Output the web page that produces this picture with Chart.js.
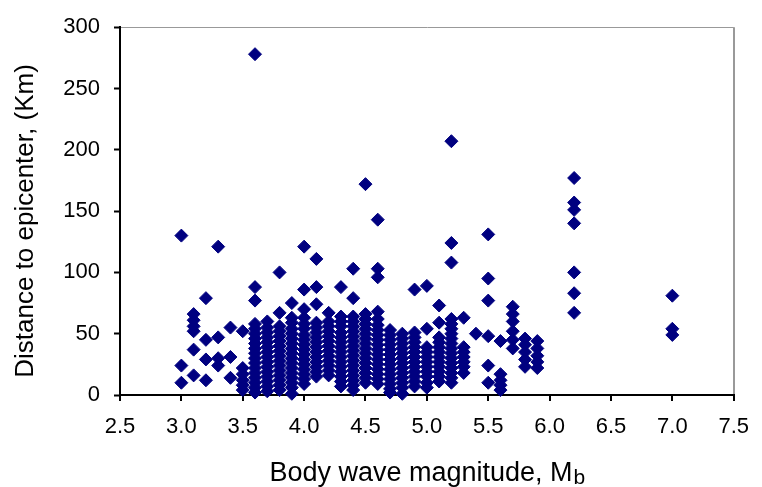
<!DOCTYPE html>
<html>
<head>
<meta charset="utf-8">
<script src="https://cdn.jsdelivr.net/npm/chart.js@4"></script>
<style>
  html, body { margin: 0; padding: 0; background: #fff; }
  #wrap { width: 762px; height: 487px; }
</style>
</head>
<body>
<div id="wrap"><canvas id="quakeChart" width="762" height="487"></canvas></div>
<script>
// magnitude columns (Mb) and the distances (km) recorded at each one
const magnitudes = [3.0, 3.1, 3.2, 3.3, 3.4, 3.5, 3.6, 3.7, 3.8, 3.9, 4.0, 4.1, 4.2, 4.3, 4.4, 4.5,
  4.6, 4.7, 4.8, 4.9, 5.0, 5.1, 5.2, 5.3, 5.4, 5.5, 5.6, 5.7, 5.8, 5.9, 6.2, 7.0];

const distances = [
  [130, 24, 10],
  [66, 61, 56, 52, 37, 16],
  [79, 45, 29, 12],
  [121, 47, 30, 24],
  [55, 31, 14],
  [52, 22, 17, 12, 8, 4],
  [278, 88, 77, 58, 54, 50, 46, 42, 38, 34, 30, 26, 22, 18, 14, 10, 6, 2],
  [60, 55, 51, 47, 43, 39, 35, 31, 27, 23, 19, 15, 11, 7, 3],
  [100, 67, 56, 52, 48, 44, 40, 36, 32, 28, 24, 20, 16, 12, 8, 4],
  [75, 63, 59, 54, 50, 46, 42, 38, 34, 30, 26, 22, 18, 14, 10, 6, 1],
  [121, 86, 70, 63, 58, 54, 49, 45, 41, 37, 33, 29, 25, 21, 17, 13, 9],
  [111, 88, 74, 59, 55, 51, 47, 43, 39, 35, 31, 27, 23, 19, 15],
  [67, 60, 56, 52, 48, 44, 40, 36, 32, 28, 24, 20, 16],
  [88, 64, 60, 56, 51, 47, 43, 39, 35, 31, 27, 23, 19, 15, 11, 7],
  [103, 79, 64, 60, 56, 52, 48, 44, 40, 36, 32, 28, 24, 20, 16, 12, 8, 4],
  [172, 66, 62, 58, 54, 50, 46, 42, 38, 34, 30, 26, 22, 18, 14, 10],
  [143, 103, 96, 68, 62, 57, 53, 49, 45, 41, 37, 33, 29, 25, 21, 17, 13, 9],
  [53, 49, 45, 41, 37, 33, 29, 25, 21, 17, 13, 9, 5, 2],
  [50, 46, 42, 38, 34, 30, 26, 22, 18, 14, 10, 6, 1],
  [86, 51, 47, 43, 39, 35, 31, 27, 23, 19, 15, 11, 7],
  [89, 54, 39, 35, 31, 27, 23, 19, 15, 10, 6],
  [73, 59, 47, 43, 39, 35, 31, 27, 23, 19, 15, 11],
  [207, 124, 108, 62, 58, 54, 50, 46, 42, 38, 34, 30, 26, 22, 18, 14, 10],
  [63, 39, 35, 31, 27, 23, 18],
  [50],
  [131, 95, 77, 48, 24, 10],
  [44, 17, 12, 8, 4],
  [72, 66, 60, 52, 45, 38],
  [46, 41, 35, 29, 23],
  [44, 38, 32, 27, 22],
  [177, 157, 151, 140, 100, 83, 67],
  [81, 54, 49]
];

const xMin = 2.5, xMax = 7.5, xStep = 0.5;
const yMin = 0, yMax = 300, yStep = 50;

const xTitle = 'Body wave magnitude, M';
const xTitleSub = 'b';
const yTitle = 'Distance to epicenter, (Km)';

const NAVY = '#000080';
const FONT = '"Liberation Sans", Arial, sans-serif';

function buildPoints() {
  const pts = [];
  magnitudes.forEach((m, i) => {
    distances[i].forEach(d => pts.push({ x: m, y: d }));
  });
  return pts;
}

// axis titles are drawn by hand so the subscript b can sit below the line
const titlePlugin = {
  id: 'axisTitles',
  afterDraw(chart) {
    const { ctx, chartArea } = chart;
    ctx.save();
    ctx.fillStyle = '#000';
    ctx.textBaseline = 'alphabetic';

    ctx.font = '27px ' + FONT;
    const w1 = ctx.measureText(xTitle).width;
    ctx.font = '21px ' + FONT;
    const w2 = ctx.measureText(xTitleSub).width;
    const cx = (chartArea.left + chartArea.right) / 2;
    let x0 = cx - (w1 + w2) / 2;
    ctx.textAlign = 'left';
    ctx.font = '27px ' + FONT;
    ctx.fillText(xTitle, x0, 481);
    ctx.font = '21px ' + FONT;
    ctx.fillText(xTitleSub, x0 + w1 + 1, 484);

    ctx.translate(33, 221);
    ctx.rotate(-Math.PI / 2);
    ctx.textAlign = 'center';
    ctx.font = '26px ' + FONT;
    ctx.fillText(yTitle, 0, 0);
    ctx.restore();
  }
};

const ctx = document.getElementById('quakeChart').getContext('2d');
new Chart(ctx, {
  type: 'scatter',
  data: {
    datasets: [{
      data: buildPoints(),
      pointStyle: 'rectRot',
      pointRadius: 6.5,
      pointBorderWidth: 1,
      backgroundColor: NAVY,
      borderColor: NAVY,
      clip: false
    }]
  },
  options: {
    responsive: false,
    animation: false,
    devicePixelRatio: 1,
    layout: { padding: { top: 22, right: 16, left: 0, bottom: 0 } },
    plugins: {
      legend: { display: false },
      tooltip: { enabled: false }
    },
    scales: {
      x: {
        type: 'linear',
        min: xMin,
        max: xMax,
        afterFit: scale => { scale.height = 92; },
        ticks: {
          stepSize: xStep,
          color: '#000',
          padding: 13,
          font: { family: FONT, size: 22 },
          callback: v => v.toFixed(1)
        },
        grid: {
          color: c => (c.tick && c.tick.value === xMax ? '#999' : 'rgba(0,0,0,0)'),
          lineWidth: 2,
          tickColor: '#000',
          tickLength: 6,
          tickWidth: 2
        },
        border: { color: '#000', width: 2 }
      },
      y: {
        min: yMin,
        max: yMax,
        afterFit: scale => { scale.width = 120; },
        ticks: {
          stepSize: yStep,
          color: '#000',
          padding: 14,
          font: { family: FONT, size: 22 }
        },
        grid: {
          color: c => (c.tick && c.tick.value === yMax ? '#999' : 'rgba(0,0,0,0)'),
          lineWidth: 1,
          tickColor: '#000',
          tickLength: 6,
          tickWidth: 2
        },
        border: { color: '#000', width: 2 }
      }
    }
  },
  plugins: [titlePlugin]
});
</script>
</body>
</html>
